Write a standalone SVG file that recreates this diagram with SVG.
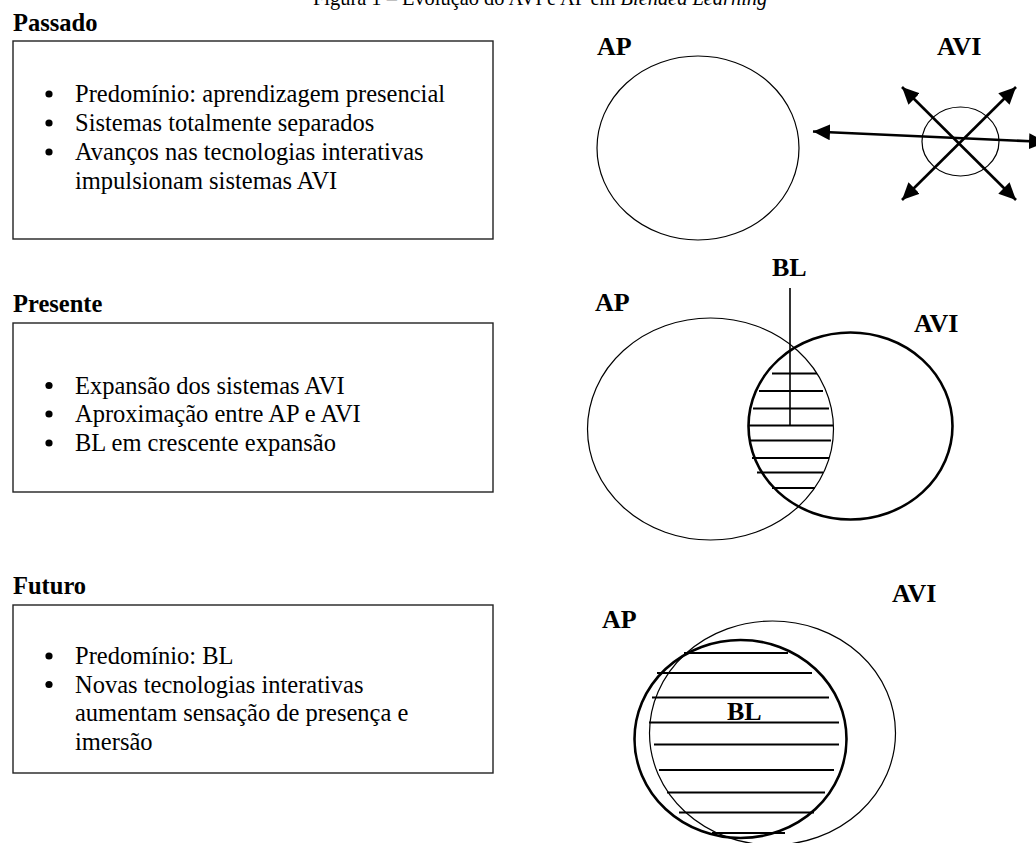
<svg xmlns="http://www.w3.org/2000/svg" width="1036" height="843" viewBox="0 0 1036 843">
  <style>
    .bg { fill: #ffffff; }
    .title { font-family: "Liberation Serif", "Times New Roman", serif; font-size: 20.4px; fill: #000; }
    .head { font-family: "Liberation Serif", "Times New Roman", serif; font-size: 24.5px; font-weight: bold; fill: #000; }
    .body { font-family: "Liberation Serif", "Times New Roman", serif; font-size: 24.5px; fill: #000; }
    .lbl { font-family: "Liberation Serif", "Times New Roman", serif; font-size: 26px; font-weight: bold; fill: #000; }
    .box { fill: none; stroke: #222; stroke-width: 1.4; }
    .thin { fill: none; stroke: #000; stroke-width: 1.2; }
    .thick { fill: none; stroke: #000; stroke-width: 2.6; }
    .hatch { stroke: #000; stroke-width: 2; }
    .arrow { stroke: #000; stroke-width: 2.6; fill: none; }
    .dot { fill: #000; }
  </style>
  <defs>
    <marker id="head" markerUnits="userSpaceOnUse" markerWidth="18" markerHeight="16" refX="17" refY="8" orient="auto-start-reverse">
      <path d="M0,0 L17,8 L0,16 z" fill="#000"/>
    </marker>
  </defs>

  <rect class="bg" x="0" y="0" width="1036" height="843"/>

  <!-- caption, clipped by the top edge -->
  <text class="title" x="313" y="5">Figura 1 – Evolução do AVI e AP em <tspan font-style="italic">Blended Learning</tspan></text>

  <!-- Passado -->
  <g id="passado-text">
    <text class="head" x="13" y="31">Passado</text>
    <rect class="box" x="13" y="41" width="480" height="198"/>
    <circle class="dot" cx="49" cy="94" r="3.6"/>
    <circle class="dot" cx="49" cy="123" r="3.6"/>
    <circle class="dot" cx="49" cy="152" r="3.6"/>
    <text class="body" x="75" y="102">Predomínio: aprendizagem presencial</text>
    <text class="body" x="75" y="131">Sistemas totalmente separados</text>
    <text class="body" x="75" y="160">Avanços nas tecnologias interativas</text>
    <text class="body" x="75" y="189">impulsionam sistemas AVI</text>
  </g>

  <g id="passado-ap">
    <text class="lbl" x="597" y="55">AP</text>
    <ellipse class="thin" cx="698" cy="148" rx="101" ry="92"/>
  </g>

  <g id="passado-avi">
    <text class="lbl" x="937" y="55">AVI</text>
    <ellipse class="thin" cx="960.5" cy="141.5" rx="38.5" ry="34.5"/>
  </g>

  <g id="connectors">
    <line class="arrow" x1="813" y1="131.5" x2="1046" y2="142" marker-start="url(#head)" marker-end="url(#head)"/>
    <line class="arrow" x1="902" y1="87" x2="1016" y2="200" marker-start="url(#head)" marker-end="url(#head)"/>
    <line class="arrow" x1="1016" y1="87" x2="902" y2="200" marker-start="url(#head)" marker-end="url(#head)"/>
    <line class="hatch" x1="790" y1="288" x2="790" y2="426" style="stroke-width:1.6"/>
  </g>

  <!-- Presente -->
  <g id="presente-text">
    <text class="head" x="13" y="312">Presente</text>
    <rect class="box" x="13" y="323" width="480" height="169"/>
    <circle class="dot" cx="49" cy="385.5" r="3.6"/>
    <circle class="dot" cx="49" cy="414" r="3.6"/>
    <circle class="dot" cx="49" cy="443" r="3.6"/>
    <text class="body" x="75" y="393.5">Expansão dos sistemas AVI</text>
    <text class="body" x="75" y="422">Aproximação entre AP e AVI</text>
    <text class="body" x="75" y="451">BL em crescente expansão</text>
  </g>

  <g id="presente-ap">
    <text class="lbl" x="595" y="311">AP</text>
    <ellipse class="thin" cx="710.5" cy="429" rx="123" ry="111"/>
  </g>

  <g id="presente-avi">
    <text class="lbl" x="914" y="332">AVI</text>
    <ellipse class="thick" cx="850.5" cy="426" rx="102" ry="93.5"/>
  </g>

  <g id="presente-bl">
    <text class="lbl" x="772" y="276">BL</text>
    <line class="hatch" x1="772" y1="373.5" x2="817" y2="373.5"/>
    <line class="hatch" x1="759" y1="391" x2="823" y2="391"/>
    <line class="hatch" x1="753" y1="408.5" x2="829" y2="408.5"/>
    <line class="hatch" x1="749" y1="425.5" x2="833" y2="425.5"/>
    <line class="hatch" x1="749" y1="440.5" x2="831" y2="440.5"/>
    <line class="hatch" x1="752" y1="458" x2="829" y2="458"/>
    <line class="hatch" x1="757" y1="472.5" x2="823" y2="472.5"/>
    <line class="hatch" x1="772" y1="488" x2="815" y2="488"/>
  </g>

  <!-- Futuro -->
  <g id="futuro-text">
    <text class="head" x="13" y="594">Futuro</text>
    <rect class="box" x="13" y="605" width="480" height="168"/>
    <circle class="dot" cx="49" cy="656" r="3.6"/>
    <circle class="dot" cx="49" cy="684.5" r="3.6"/>
    <text class="body" x="75" y="664">Predomínio: BL</text>
    <text class="body" x="75" y="692.5">Novas tecnologias interativas</text>
    <text class="body" x="75" y="721">aumentam sensação de presença e</text>
    <text class="body" x="75" y="749.5">imersão</text>
  </g>

  <g id="futuro-avi">
    <text class="lbl" x="892" y="602">AVI</text>
    <ellipse class="thin" cx="772.5" cy="733" rx="123" ry="112"/>
  </g>

  <g id="futuro-ap">
    <text class="lbl" x="602" y="628">AP</text>
    <ellipse class="thick" cx="740.5" cy="739" rx="106" ry="99"/>
  </g>

  <g id="futuro-bl">
    <line class="hatch" x1="684" y1="653" x2="788" y2="653"/>
    <line class="hatch" x1="657" y1="673" x2="812" y2="673"/>
    <line class="hatch" x1="652" y1="697.5" x2="829" y2="697.5"/>
    <line class="hatch" x1="649" y1="722.5" x2="839" y2="722.5"/>
    <line class="hatch" x1="654" y1="744.5" x2="839" y2="744.5"/>
    <line class="hatch" x1="659" y1="770" x2="834" y2="770"/>
    <line class="hatch" x1="667" y1="792.5" x2="825" y2="792.5"/>
    <line class="hatch" x1="679" y1="812.5" x2="814" y2="812.5"/>
    <line class="hatch" x1="712" y1="833" x2="785" y2="833"/>
    <text class="lbl" x="727" y="720">BL</text>
  </g>
</svg>
